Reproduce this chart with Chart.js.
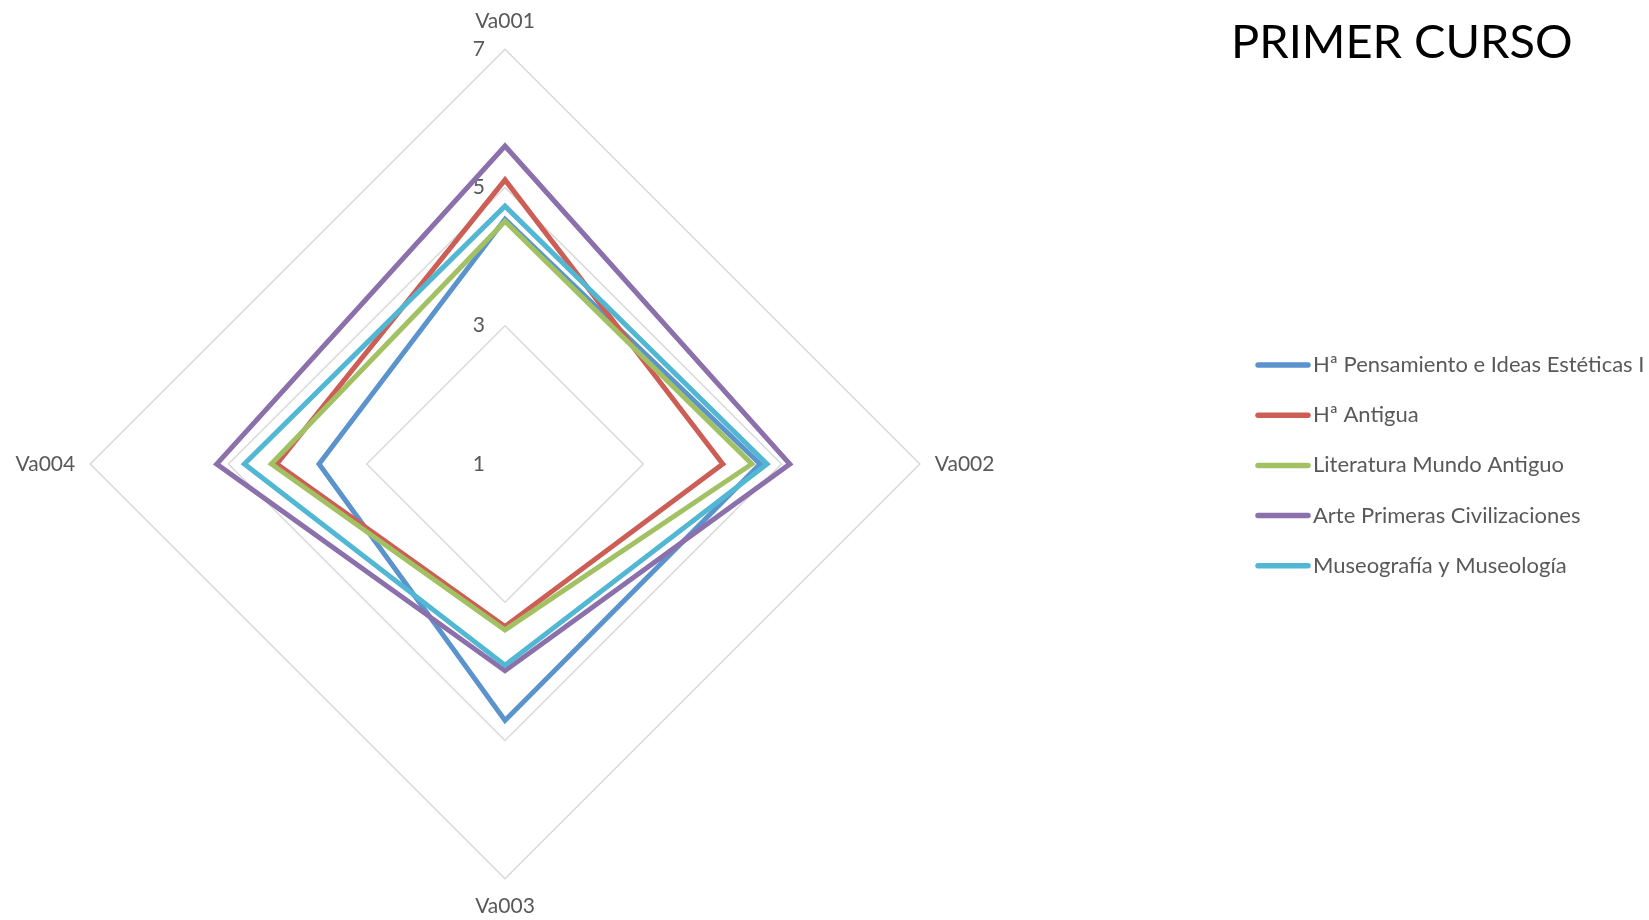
<!DOCTYPE html>
<html>
<head>
<meta charset="utf-8">
<title>PRIMER CURSO</title>
<script src="https://cdn.jsdelivr.net/npm/chart.js@4"></script>
<style>
  html, body { margin: 0; padding: 0; background: #ffffff; }
  #radarChart { display: block; }
</style>
</head>
<body>
<canvas id="radarChart" width="1649" height="920"></canvas>
<script>
const categories = ["Va001", "Va002", "Va003", "Va004"];
const seriesNames = [
  "Hª Pensamiento e Ideas Estéticas I",
  "Hª Antigua",
  "Literatura Mundo Antiguo",
  "Arte Primeras Civilizaciones",
  "Museografía y Museología",
];
const pensamientoValues = [4.54, 4.69, 4.71, 3.69];
const antiguaValues = [5.11, 4.15, 3.35, 4.30];
const literaturaValues = [4.51, 4.57, 3.40, 4.38];
const arteValues = [5.60, 5.12, 3.99, 5.17];
const museografiaValues = [4.73, 4.79, 3.91, 4.77];
const tickLabels = [1, 3, 5, 7];
const seriesColors = ["#5B93CC", "#CC5E55", "#A2C163", "#8B70AC", "#52B7D3"];

const chartTitle = "PRIMER CURSO";
const textColor = "#595959";
const fontFamily = "Lato, 'Open Sans', sans-serif";

const allValues = [pensamientoValues, antiguaValues, literaturaValues, arteValues, museografiaValues];

const datasets = allValues.map((values, i) => ({
  label: seriesNames[i],
  data: values,
  borderColor: seriesColors[i],
  backgroundColor: seriesColors[i],
  borderWidth: 5,
  pointRadius: 0,
  pointHoverRadius: 0,
  fill: false,
  // later series sit on top, like the spreadsheet original
  order: allValues.length - i,
}));

// tick labels sit left of the top spoke, under the lines
const tickLabelPlugin = {
  id: "tickLabels",
  beforeDatasetsDraw(chart) {
    const scale = chart.scales.r;
    const ctx = chart.ctx;
    ctx.save();
    ctx.font = `21px ${fontFamily}`;
    ctx.fillStyle = textColor;
    ctx.textAlign = "right";
    ctx.textBaseline = "middle";
    tickLabels.forEach((tick) => {
      const pos = scale.getPointPositionForValue(0, tick);
      ctx.fillText(String(tick), pos.x - 20, pos.y);
    });
    ctx.restore();
  },
};

// title and legend drawn in the right-hand column
const sidePanelPlugin = {
  id: "sidePanel",
  afterDraw(chart) {
    const ctx = chart.ctx;
    ctx.save();
    ctx.fillStyle = "#000000";
    ctx.font = `47px ${fontFamily}`;
    ctx.textAlign = "left";
    ctx.textBaseline = "middle";
    ctx.fillText(chartTitle, 1231, 43);

    ctx.font = `22px ${fontFamily}`;
    ctx.lineWidth = 5.5;
    ctx.lineCap = "round";
    seriesNames.forEach((name, i) => {
      const y = 365 + i * 50.2;
      ctx.strokeStyle = seriesColors[i];
      ctx.beginPath();
      ctx.moveTo(1258, y);
      ctx.lineTo(1308, y);
      ctx.stroke();
      ctx.fillStyle = textColor;
      ctx.fillText(name, 1313, y);
    });
    ctx.restore();
  },
};

new Chart(document.querySelector("#radarChart"), {
  type: "radar",
  data: {
    labels: categories,
    datasets,
  },
  options: {
    responsive: false,
    devicePixelRatio: 1,
    animation: false,
    elements: {
      line: { tension: 0 },
    },
    layout: {
      padding: { left: 0, right: 639, top: 10, bottom: 0 },
    },
    plugins: {
      legend: { display: false },
      tooltip: { enabled: false },
    },
    scales: {
      r: {
        min: 1,
        max: 7,
        ticks: {
          stepSize: 2,
          display: false,
        },
        grid: {
          color: "#D9D9D9",
          lineWidth: 1.5,
        },
        angleLines: {
          display: false,
        },
        pointLabels: {
          color: textColor,
          padding: 15,
          font: {
            family: fontFamily,
            size: 21,
          },
        },
      },
    },
  },
  plugins: [tickLabelPlugin, sidePanelPlugin],
});
</script>
</body>
</html>
